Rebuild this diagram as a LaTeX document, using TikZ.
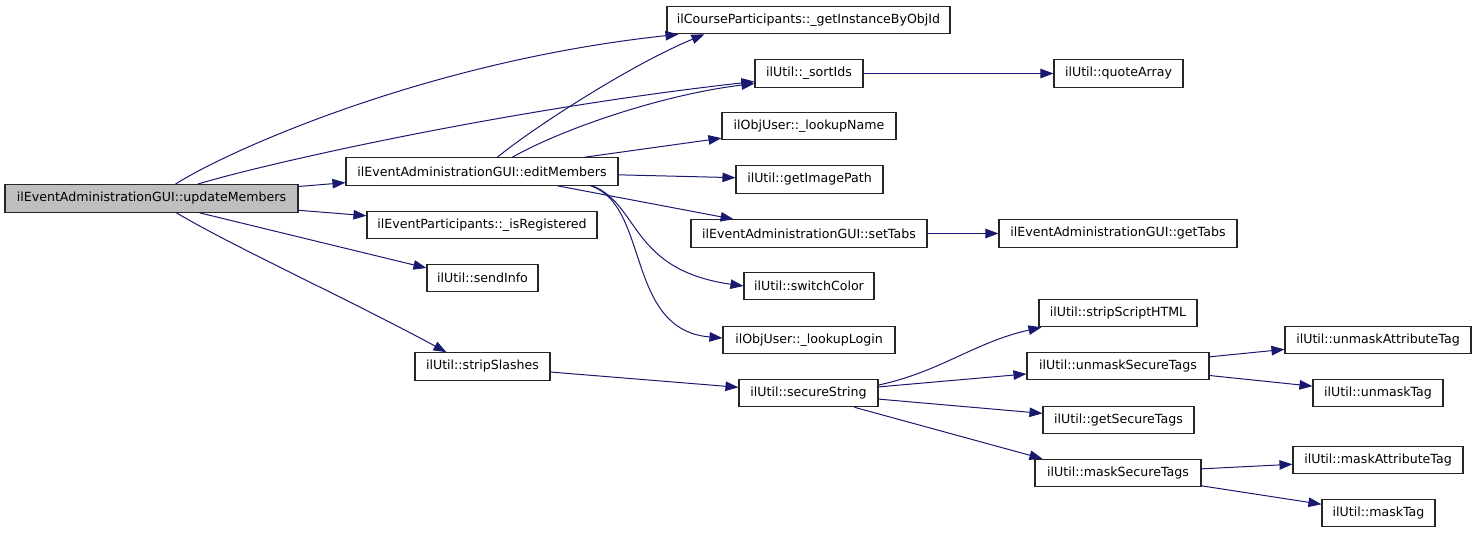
\documentclass[tikz,border=0pt]{standalone}
\usepackage{fontspec}
\setmainfont{DejaVu Sans}
\usetikzlibrary{arrows.meta}
\definecolor{edgeblue}{RGB}{25,25,112}
\definecolor{mainfill}{RGB}{191,191,191}
\begin{document}
\begin{tikzpicture}[x=1pt,y=-1pt,
  box/.style={draw=black!85, line width=1.1pt, inner sep=0pt, fill=white,
    font=\fontsize{12.6}{15}\selectfont, minimum height=27.5pt},
  mainbox/.style={box, fill=mainfill},
  edge/.style={draw=edgeblue, line width=1pt, -{Triangle[length=13pt,width=9.5pt]}}]
\useasboundingbox (0,0) rectangle (1477,533);
% nodes
\node[mainbox, minimum width=293pt] (um) at (151.5,198.5) {ilEventAdministrationGUI::updateMembers};
\node[box, minimum width=272pt] (em) at (482,171.5) {ilEventAdministrationGUI::editMembers};
\node[box, minimum width=230pt] (ir) at (482,225) {ilEventParticipants::\_isRegistered};
\node[box, minimum width=111pt] (si) at (482.5,278) {ilUtil::sendInfo};
\node[box, minimum width=135pt] (ss) at (482.5,366.5) {ilUtil::stripSlashes};
\node[box, minimum width=283pt] (cp) at (808.5,20) {ilCourseParticipants::\_getInstanceByObjId};
\node[box, minimum width=108pt] (sid) at (809,73.5) {ilUtil::\_sortIds};
\node[box, minimum width=129pt] (qa) at (1118.5,73.5) {ilUtil::quoteArray};
\node[box, minimum width=174pt] (ln) at (809,126) {ilObjUser::\_lookupName};
\node[box, minimum width=147pt] (gip) at (809.5,179.5) {ilUtil::getImagePath};
\node[box, minimum width=236pt] (st) at (809,233.5) {ilEventAdministrationGUI::setTabs};
\node[box, minimum width=238pt] (gt) at (1118,233.5) {ilEventAdministrationGUI::getTabs};
\node[box, minimum width=130pt] (sc) at (809,286) {ilUtil::switchColor};
\node[box, minimum width=172pt] (ll) at (809,340) {ilObjUser::\_lookupLogin};
\node[box, minimum width=139pt] (sec) at (808.5,393) {ilUtil::secureString};
\node[box, minimum width=158pt] (ssh) at (1118,313) {ilUtil::stripScriptHTML};
\node[box, minimum width=182pt] (ust) at (1118,366) {ilUtil::unmaskSecureTags};
\node[box, minimum width=151pt] (gst) at (1118.5,420) {ilUtil::getSecureTags};
\node[box, minimum width=166pt] (mst) at (1118,473) {ilUtil::maskSecureTags};
\node[box, minimum width=186pt] (uat) at (1378,340) {ilUtil::unmaskAttributeTag};
\node[box, minimum width=130pt] (ut) at (1378,393) {ilUtil::unmaskTag};
\node[box, minimum width=170pt] (mat) at (1378,460) {ilUtil::maskAttributeTag};
\node[box, minimum width=113pt] (mt) at (1378.5,513) {ilUtil::maskTag};
% edges from updateMembers
\draw[edge] ([xshift=171pt]um.north west) .. controls (220,155) and (420,62) .. ([xshift=12pt]cp.south west);
\draw[edge] ([xshift=193pt]um.north west) .. controls (260,165) and (500,110) .. ([yshift=-8pt]sid.west);
\draw[edge] (um) -- (em);
\draw[edge] (um) -- (ir);
\draw[edge] ([xshift=195pt]um.south west) -- ([yshift=10pt]si.west);
\draw[edge] ([xshift=172pt]um.south west) .. controls (230,245) and (350,300) .. ([xshift=32pt]ss.north west);
% edges from editMembers
\draw[edge] ([xshift=152pt]em.north west) .. controls (530,130) and (630,65) .. ([xshift=38pt]cp.south west);
\draw[edge] ([xshift=167pt]em.north west) .. controls (560,130) and (660,95) .. ([yshift=-10pt]sid.west);
\draw[edge] (em) -- (ln);
\draw[edge] (em) -- (gip);
\draw[edge] (em) -- (st);
\draw[edge] ([xshift=247pt]em.south west) .. controls (640,205) and (630,270) .. (sc.west);
\draw[edge] ([xshift=245pt]em.south west) .. controls (650,205) and (625,330) .. ([yshift=2pt]ll.west);
% other edges
\draw[edge] (sid) -- (qa);
\draw[edge] (st) -- (gt);
\draw[edge] (ss) -- (sec);
\draw[edge] ([yshift=8pt]sec.east) .. controls (940,372) and (975,342) .. ([xshift=3pt]ssh.south west);
\draw[edge] (sec) -- (ust);
\draw[edge] (sec) -- (gst);
\draw[edge] ([xshift=116pt]sec.south west) -- ([xshift=8pt]mst.north west);
\draw[edge] (ust) -- (uat);
\draw[edge] (ust) -- (ut);
\draw[edge] (mst) -- (mat);
\draw[edge] (mst) -- (mt);
\end{tikzpicture}
\end{document}
